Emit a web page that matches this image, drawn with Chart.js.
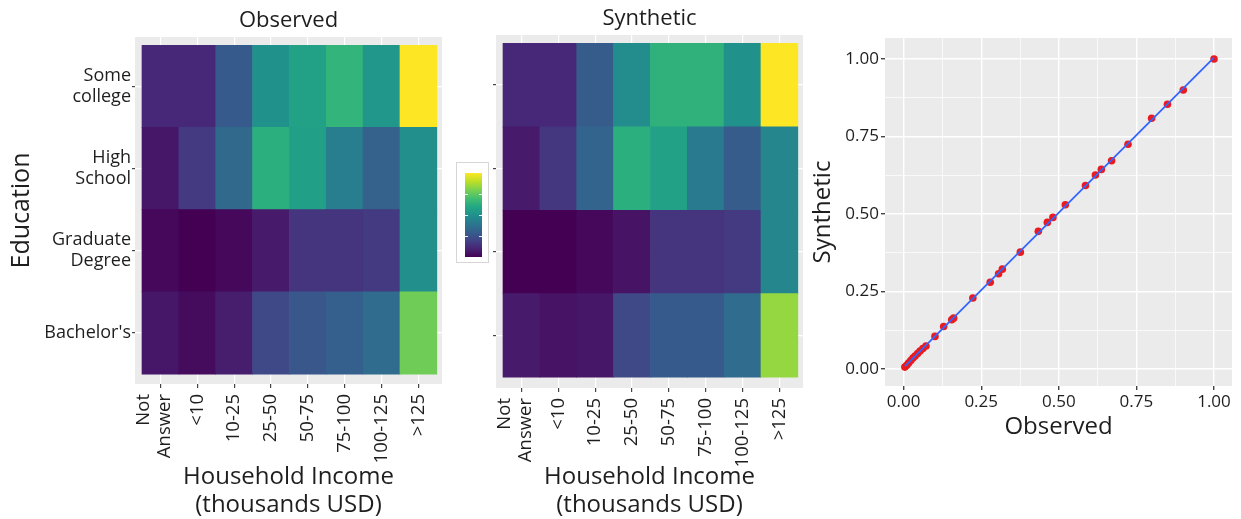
<!DOCTYPE html>
<html>
<head>
<meta charset="utf-8">
<script src="https://cdn.jsdelivr.net/npm/chart.js@4.4.1/dist/chart.umd.min.js"></script>
<style>
  html, body { margin:0; padding:0; background:#fff; }
  body { width:1241px; height:519px; position:relative; overflow:hidden; }
  .box { position:absolute; }
</style>
</head>
<body>
<div class="box" style="left:0;top:0;width:450px;height:519px"><canvas id="obs"></canvas></div>
<div class="box" style="left:450px;top:0;width:355px;height:519px"><canvas id="syn"></canvas></div>
<div class="box" style="left:456px;top:162px;width:31px;height:99px;border:1px solid #d6d6d6;background:#fff"><canvas id="cbar"></canvas></div>
<div class="box" style="left:805px;top:0;width:436px;height:519px"><canvas id="scat"></canvas></div>

<script>
// ====== datos ======
const incomeLabels = [['Not','Answer'], '<10', '10-25', '25-50', '50-75', '75-100', '100-125', '>125'];
const educationLabels = [['Some','college'], ['High','School'], ['Graduate','Degree'], "Bachelor's"]; // arriba -> abajo

const obsSomeCollege = [0.11, 0.11, 0.28, 0.50, 0.57, 0.65, 0.52, 1.00];
const obsHighSchool  = [0.06, 0.17, 0.34, 0.63, 0.56, 0.42, 0.31, 0.49];
const obsGraduate    = [0.02, 0.00, 0.02, 0.07, 0.15, 0.15, 0.17, 0.49];
const obsBachelors   = [0.06, 0.03, 0.08, 0.22, 0.27, 0.30, 0.35, 0.78];

const synSomeCollege = [0.11, 0.11, 0.29, 0.48, 0.64, 0.64, 0.50, 1.00];
const synHighSchool  = [0.07, 0.16, 0.32, 0.63, 0.57, 0.41, 0.29, 0.46];
const synGraduate    = [0.00, 0.00, 0.02, 0.05, 0.15, 0.15, 0.17, 0.46];
const synBachelors   = [0.07, 0.05, 0.06, 0.22, 0.28, 0.28, 0.35, 0.84];

const colorbarTicks = [0.25, 0.5, 0.75];

// dispersión observado vs sintético
const scatterObserved  = [0.004, 0.010, 0.016, 0.023, 0.030, 0.037, 0.045, 0.053, 0.062, 0.072,
  0.101, 0.129, 0.155, 0.161, 0.223, 0.279, 0.306, 0.318, 0.376, 0.434, 0.463, 0.481,
  0.521, 0.586, 0.618, 0.637, 0.670, 0.723, 0.799, 0.850, 0.901, 1.000];
const scatterSynthetic = [0.006, 0.012, 0.019, 0.027, 0.035, 0.042, 0.050, 0.058, 0.066, 0.074,
  0.105, 0.137, 0.159, 0.164, 0.229, 0.280, 0.307, 0.322, 0.377, 0.444, 0.473, 0.489,
  0.530, 0.592, 0.626, 0.644, 0.672, 0.725, 0.809, 0.854, 0.900, 1.000];
const scatterTicks = [0, 0.125, 0.25, 0.375, 0.5, 0.625, 0.75, 0.875, 1];

// ====== estilo ======
const FONT = "'Open Sans', 'DejaVu Sans', sans-serif";
const TXT = '#1e1e1e';
const PANEL = '#ebebeb';
const VIRIDIS = ['#440154','#482475','#414487','#355f8d','#2a788e','#21918c','#22a884','#44bf70','#7ad151','#bddf26','#fde725'];
const LABEL_SHIFT = -0.45; // la etiqueta de dos líneas queda centrada en su columna

Chart.defaults.font.family = FONT;
Chart.defaults.color = TXT;
Chart.defaults.animation = false;

function hexRgb(h){ return [1,3,5].map(k => parseInt(h.slice(k,k+2),16)); }
function viridis(t){
  t = Math.max(0, Math.min(1, t));
  const p = t * 10, i = Math.min(9, Math.floor(p)), f = p - i;
  const a = hexRgb(VIRIDIS[i]), b = hexRgb(VIRIDIS[i+1]);
  const c = a.map((v,k) => Math.round(v + (b[k]-v)*f));
  return `rgb(${c[0]},${c[1]},${c[2]})`;
}

const panelBg = {
  id: 'panelBg',
  beforeDraw(chart){
    const {ctx, chartArea:a} = chart;
    ctx.save(); ctx.fillStyle = PANEL;
    ctx.fillRect(a.left, a.top, a.right - a.left, a.bottom - a.top);
    ctx.restore();
  }
};

// --- heatmap como barras apiladas ---
function heatmap(id, rows, title, opt){
  const bottomUp = rows.slice().reverse();
  const datasets = bottomUp.map(vals => ({
    data: vals.map((v, i) => ({ x: i, y: 1 })),
    backgroundColor: vals.map(viridis),
    borderWidth: 0, barThickness: 'flex', barPercentage: 1, categoryPercentage: 1
  }));
  const yLabels = educationLabels.slice().reverse();
  // tick extra (solo etiqueta) para "Not Answer"
  const isLabelOnly = v => v < -0.1;
  const xLabel = v => isLabelOnly(v) ? incomeLabels[0] : (v === 0 ? '' : incomeLabels[v]);
  return new Chart(document.getElementById(id), {
    type: 'bar',
    data: { datasets },
    options: {
      responsive: true, maintainAspectRatio: false,
      layout: { autoPadding: false, padding: { right: opt.padRight } },
      plugins: {
        legend: { display: false }, tooltip: { enabled: false },
        title: { display: true, text: title, fullSize: false, color: TXT,
                 font: { size: 22, weight: 'normal' }, padding: opt.titlePad }
      },
      scales: {
        x: {
          type: 'linear', stacked: true, offset: false, min: -0.69, max: 7.64,
          afterBuildTicks: s => {
            s.ticks = [{ value: LABEL_SHIFT }].concat(incomeLabels.map((_, i) => ({ value: i })));
          },
          afterFit: s => { s.height = opt.xHeight; s.paddingLeft = 0; s.paddingRight = 0; },
          ticks: { autoSkip: false, minRotation: 90, maxRotation: 90, padding: 6, color: TXT,
                   font: { size: 18.5, lineHeight: 1.15 }, callback: v => xLabel(v) },
          grid: { offset: false,
                  color: c => isLabelOnly(c.tick.value) ? 'rgba(0,0,0,0)' : '#fff',
                  tickColor: c => isLabelOnly(c.tick.value) ? 'rgba(0,0,0,0)' : '#444',
                  lineWidth: 1.2, tickLength: 4 },
          border: { display: false },
          title: { display: true, text: ['Household Income', '(thousands USD)'], color: TXT,
                   font: { size: 24, lineHeight: 28 / 24 }, padding: { top: 0, bottom: 0 } }
        },
        y: {
          type: 'linear', stacked: true, min: opt.yMin, max: 4.1,
          afterBuildTicks: s => { s.ticks = yLabels.map((_, i) => ({ value: i + 0.5 })); },
          afterFit: s => { s.width = opt.yWidth; s.paddingTop = 0; s.paddingBottom = 0; },
          ticks: { autoSkip: false, padding: 1, color: TXT, font: { size: 18, lineHeight: 21 / 18 },
                   callback: (v, i) => opt.showY ? yLabels[i] : '' },
          grid: { color: '#fff', lineWidth: 1.2, tickColor: '#444', tickLength: 3 },
          border: { display: false },
          title: { display: opt.showY, text: 'Education', color: TXT,
                   font: { size: 25 }, padding: { top: 7 } }
        }
      }
    },
    plugins: [panelBg]
  });
}

heatmap('obs', [obsSomeCollege, obsHighSchool, obsGraduate, obsBachelors], 'Observed',
  { padRight: 8, titlePad: { top: 8, bottom: 2.6 }, xHeight: 135, yWidth: 135, yMin: -0.12, showY: true });
heatmap('syn', [synSomeCollege, synHighSchool, synGraduate, synBachelors], 'Synthetic',
  { padRight: 2, titlePad: { top: 6, bottom: 2.6 }, xHeight: 131, yWidth: 46, yMin: -0.13, showY: false });

// --- barra de color ---
function viridisGradient(chart){
  const a = chart.chartArea;
  if (!a) return VIRIDIS[5];
  const g = chart.ctx.createLinearGradient(0, a.bottom, 0, a.top);
  VIRIDIS.forEach((c, i) => g.addColorStop(i / (VIRIDIS.length - 1), c));
  return g;
}
const cbarTicks = {
  id: 'cbarTicks',
  afterDatasetsDraw(chart){
    const {ctx, chartArea:a, scales:{y}} = chart;
    ctx.save(); ctx.strokeStyle = 'rgba(255,255,255,0.9)'; ctx.lineWidth = 1;
    colorbarTicks.forEach(v => {
      const py = Math.round(y.getPixelForValue(v)) + 0.5;
      ctx.beginPath();
      ctx.moveTo(a.left, py); ctx.lineTo(a.left + 3, py);
      ctx.moveTo(a.right - 3, py); ctx.lineTo(a.right, py);
      ctx.stroke();
    });
    ctx.restore();
  }
};
new Chart(document.getElementById('cbar'), {
  type: 'bar',
  data: { labels: [''], datasets: [{ data: [[0, 1]], backgroundColor: c => viridisGradient(c.chart),
          borderWidth: 0, barPercentage: 1, categoryPercentage: 1 }] },
  options: {
    responsive: true, maintainAspectRatio: false,
    layout: { autoPadding: false, padding: { left: 8, right: 6, top: 10, bottom: 5 } },
    plugins: { legend: { display: false }, tooltip: { enabled: false } },
    scales: { x: { display: false }, y: { display: false, min: 0, max: 1 } }
  },
  plugins: [cbarTicks]
});

// --- dispersión ---
const points = scatterObserved.map((x, i) => ({ x, y: scatterSynthetic[i] }));
// ajuste lineal (como geom_smooth lm)
const n = points.length;
const mx = scatterObserved.reduce((s,v)=>s+v,0)/n, my = scatterSynthetic.reduce((s,v)=>s+v,0)/n;
let sxy = 0, sxx = 0;
points.forEach(p => { sxy += (p.x-mx)*(p.y-my); sxx += (p.x-mx)*(p.x-mx); });
const slope = sxy / sxx, icpt = my - slope*mx;
const xLo = Math.min(...scatterObserved), xHi = Math.max(...scatterObserved);
const fit = [xLo, xHi].map(x => ({ x, y: icpt + slope*x }));

const isMajor = v => Math.abs(v*4 - Math.round(v*4)) < 1e-6;
const scatAxis = (minV, maxV, extra) => Object.assign({
  type: 'linear', min: minV, max: maxV,
  afterBuildTicks: s => { s.ticks = scatterTicks.map(value => ({ value })); },
  ticks: { autoSkip: false, color: TXT, font: { size: 17 }, padding: 2,
           callback: v => isMajor(v) ? v.toFixed(2) : '' },
  grid: { color: '#fff', lineWidth: c => isMajor(c.tick.value) ? 1.4 : 0.7,
          tickColor: c => isMajor(c.tick.value) ? '#444' : 'rgba(0,0,0,0)', tickLength: 4 },
  border: { display: false }
}, extra);

new Chart(document.getElementById('scat'), {
  type: 'scatter',
  data: { datasets: [
    { type: 'line', data: fit, borderColor: '#3366ff', borderWidth: 1.8, pointRadius: 0, order: 0 },
    { data: points, backgroundColor: '#ea1a1d', pointRadius: 3.8, borderWidth: 0, order: 1 }
  ]},
  options: {
    responsive: true, maintainAspectRatio: false,
    layout: { autoPadding: false, padding: { top: 38, right: 9, bottom: 73 } },
    plugins: { legend: { display: false }, tooltip: { enabled: false } },
    scales: {
      x: scatAxis(-0.06, 1.058, {
        afterFit: s => { s.height = 60; s.paddingLeft = 0; s.paddingRight = 0; },
        title: { display: true, text: 'Observed', color: TXT, font: { size: 24 }, padding: { top: 0, bottom: 4.6 } }
      }),
      y: scatAxis(-0.055, 1.068, {
        afterFit: s => { s.width = 80; s.paddingTop = 0; s.paddingBottom = 0; },
        title: { display: true, text: 'Synthetic', color: TXT, font: { size: 24 }, padding: { top: 3.6 } }
      })
    }
  },
  plugins: [panelBg]
});
</script>
</body>
</html>
